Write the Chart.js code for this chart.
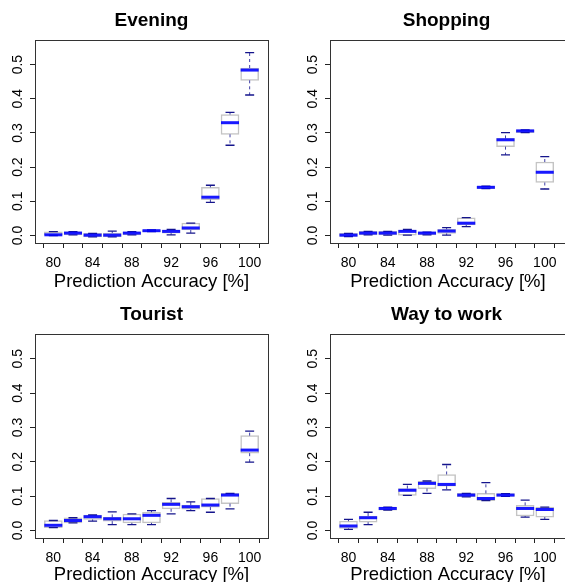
<!DOCTYPE html>
<html>
<head>
<meta charset="utf-8">
<script src="https://cdn.jsdelivr.net/npm/chart.js@4.4.1/dist/chart.umd.min.js"></script>
<style>
    body { margin: 0; background: #fff; }
    #page { position: relative; width: 565px; height: 582px; overflow: hidden; background: #fff; }
    canvas { position: absolute; }
</style>
</head>
<body>
<div id="page">
    <canvas id="evening" width="282" height="300" style="left:0px;top:0px"></canvas>
    <canvas id="shopping" width="290" height="300" style="left:282px;top:0px"></canvas>
    <canvas id="tourist" width="282" height="309" style="left:0px;top:291px"></canvas>
    <canvas id="work" width="290" height="309" style="left:282px;top:291px"></canvas>
</div>
<script>
// accuracy levels on the x axis
const positions = [80, 82, 84, 86, 88, 90, 92, 94, 96, 98, 100];
const yTicks = [0, 0.1, 0.2, 0.3, 0.4, 0.5];
const xTitle = 'Prediction Accuracy [%]';

// Evening
const eveningMin = [0.000, 0.002, -0.004, -0.004, 0.002, 0.011, 0.002, 0.007, 0.097, 0.264, 0.411];
const eveningQ1  = [0.000, 0.002, -0.004, -0.004, 0.002, 0.011, 0.007, 0.016, 0.105, 0.296, 0.454];
const eveningMed = [0.002, 0.007, 0.001, 0.001, 0.007, 0.014, 0.012, 0.022, 0.112, 0.330, 0.484];
const eveningQ3  = [0.011, 0.011, 0.006, 0.007, 0.010, 0.016, 0.016, 0.036, 0.141, 0.354, 0.490];
const eveningMax = [0.011, 0.011, 0.006, 0.013, 0.011, 0.016, 0.018, 0.036, 0.147, 0.360, 0.535];

// Shopping
const shoppingMin = [-0.003, 0.002, 0.001, 0.001, 0.002, 0.001, 0.026, 0.137, 0.236, 0.301, 0.136];
const shoppingQ1  = [-0.003, 0.002, 0.002, 0.001, 0.002, 0.006, 0.031, 0.137, 0.260, 0.301, 0.155];
const shoppingMed = [0.001, 0.007, 0.007, 0.012, 0.007, 0.013, 0.036, 0.141, 0.280, 0.306, 0.185];
const shoppingQ3  = [0.006, 0.012, 0.012, 0.016, 0.010, 0.018, 0.052, 0.144, 0.284, 0.309, 0.215];
const shoppingMax = [0.006, 0.012, 0.012, 0.018, 0.010, 0.023, 0.052, 0.144, 0.301, 0.309, 0.231];

// Tourist
const touristMin = [0.008, 0.022, 0.027, 0.017, 0.017, 0.017, 0.048, 0.058, 0.053, 0.063, 0.199];
const touristQ1  = [0.008, 0.022, 0.032, 0.027, 0.022, 0.022, 0.063, 0.062, 0.068, 0.078, 0.225];
const touristMed = [0.015, 0.029, 0.040, 0.034, 0.034, 0.044, 0.076, 0.069, 0.074, 0.103, 0.234];
const touristQ3  = [0.029, 0.037, 0.045, 0.038, 0.048, 0.053, 0.082, 0.074, 0.093, 0.108, 0.276];
const touristMax = [0.029, 0.037, 0.045, 0.054, 0.048, 0.058, 0.093, 0.083, 0.093, 0.108, 0.289];

// Way to work
const workMin = [0.003, 0.017, 0.059, 0.102, 0.108, 0.118, 0.098, 0.087, 0.099, 0.039, 0.032];
const workQ1  = [0.006, 0.024, 0.059, 0.102, 0.122, 0.129, 0.098, 0.087, 0.099, 0.042, 0.039];
const workMed = [0.013, 0.037, 0.064, 0.117, 0.137, 0.134, 0.103, 0.093, 0.103, 0.064, 0.061];
const workQ3  = [0.027, 0.042, 0.068, 0.122, 0.144, 0.163, 0.108, 0.108, 0.107, 0.073, 0.068];
const workMax = [0.032, 0.053, 0.068, 0.134, 0.144, 0.192, 0.108, 0.139, 0.107, 0.088, 0.068];

const font = '"Liberation Sans", Arial, Helvetica, sans-serif';

// whiskers, caps, medians, frame, title and rotated y labels
const boxExtras = {
    id: 'boxExtras',
    afterDatasetsDraw(chart, args, opts) {
        let ctx = chart.ctx;
        let x = chart.scales.x;
        let y = chart.scales.y;
        let a = chart.chartArea;
        let bars = chart.getDatasetMeta(0).data;

        ctx.save();
        ctx.beginPath();
        ctx.rect(a.left, a.top, a.right - a.left, a.bottom - a.top);
        ctx.clip();

        positions.forEach(function (p, i) {
            let px = x.getPixelForValue(p);
            let half = bars[i].width / 2;
            let yMin = y.getPixelForValue(opts.min[i]);
            let yQ1 = y.getPixelForValue(opts.q1[i]);
            let yMed = y.getPixelForValue(opts.med[i]);
            let yQ3 = y.getPixelForValue(opts.q3[i]);
            let yMax = y.getPixelForValue(opts.max[i]);

            // dashed whiskers
            ctx.strokeStyle = 'rgba(30, 30, 150, 0.85)';
            ctx.lineWidth = 1;
            ctx.setLineDash([3, 3]);
            ctx.beginPath();
            ctx.moveTo(px, yQ3);
            ctx.lineTo(px, yMax);
            ctx.moveTo(px, yQ1);
            ctx.lineTo(px, yMin);
            ctx.stroke();
            ctx.setLineDash([]);

            // caps
            ctx.strokeStyle = '#14148c';
            ctx.lineWidth = 1.3;
            ctx.beginPath();
            ctx.moveTo(px - half / 2, yMax);
            ctx.lineTo(px + half / 2, yMax);
            ctx.moveTo(px - half / 2, yMin);
            ctx.lineTo(px + half / 2, yMin);
            ctx.stroke();

            // median
            ctx.strokeStyle = 'rgba(0, 0, 255, 0.9)';
            ctx.lineWidth = 3;
            ctx.beginPath();
            ctx.moveTo(px - half, yMed);
            ctx.lineTo(px + half, yMed);
            ctx.stroke();
        });
        ctx.restore();
    },
    afterDraw(chart, args, opts) {
        let ctx = chart.ctx;
        let a = chart.chartArea;
        let y = chart.scales.y;

        ctx.save();
        ctx.strokeStyle = '#333';
        ctx.lineWidth = 1;
        ctx.strokeRect(Math.round(a.left) + 0.5, Math.round(a.top) + 0.5,
            Math.round(a.right - a.left), Math.round(a.bottom - a.top));

        // panel title, centred over a 233px wide plot region
        ctx.fillStyle = '#000';
        ctx.font = 'bold 19px ' + font;
        ctx.textAlign = 'center';
        ctx.textBaseline = 'middle';
        ctx.fillText(opts.title, a.left + 116.5, a.top - 19);

        ctx.font = '14px ' + font;
        yTicks.forEach(function (t) {
            let py = y.getPixelForValue(t);
            ctx.save();
            ctx.translate(a.left - 17, py);
            ctx.rotate(-Math.PI / 2);
            ctx.fillText(t.toFixed(1), 0, 0);
            ctx.restore();
        });
        ctx.restore();
    }
};

function createChart(id, title, min, q1, med, q3, max, xMax, padTop, padRight, padBottom, yWidth, xHeight) {
    let ctx = document.getElementById(id).getContext('2d');
    return new Chart(ctx, {
        type: 'bar',
        data: {
            datasets: [
                {
                    data: positions.map(function (p, i) {
                        return { x: p, y: [q1[i], q3[i]] };
                    }),
                    backgroundColor: '#fff',
                    borderColor: '#c4c4c4',
                    borderWidth: 1.5,
                    borderSkipped: false,
                    barThickness: 18,
                },
            ],
        },
        options: {
            responsive: false,
            animation: false,
            devicePixelRatio: 1,
            layout: { padding: { left: 0, top: padTop, right: padRight, bottom: padBottom } },
            plugins: {
                legend: { display: false },
                tooltip: { enabled: false },
                boxExtras: { title: title, min: min, q1: q1, med: med, q3: q3, max: max },
            },
            scales: {
                x: {
                    type: 'linear',
                    min: 79.21,
                    max: xMax,
                    afterBuildTicks: function (s) {
                        s.ticks = positions.map(function (v) { return { value: v }; });
                    },
                    ticks: {
                        autoSkip: false,
                        maxRotation: 0,
                        padding: 7,
                        color: '#000',
                        font: { family: font, size: 14 },
                        callback: function (v) { return v % 4 === 0 ? String(v) : ''; },
                    },
                    grid: { drawOnChartArea: false, tickLength: 5, color: '#222' },
                    border: { display: false },
                    title: {
                        display: true,
                        text: xTitle,
                        color: '#000',
                        padding: 0,
                        font: { family: font, size: 18.5 },
                    },
                    afterFit: function (s) { s.height = xHeight; },
                },
                y: {
                    min: -0.022,
                    max: 0.572,
                    afterBuildTicks: function (s) {
                        s.ticks = yTicks.map(function (v) { return { value: v }; });
                    },
                    ticks: { display: false },
                    grid: { drawOnChartArea: false, tickLength: 5, color: '#222' },
                    border: { display: false },
                    afterFit: function (s) { s.width = yWidth; },
                },
            },
        },
        plugins: [boxExtras],
    });
}

createChart('evening', 'Evening', eveningMin, eveningQ1, eveningMed, eveningQ3, eveningMax, 100.79, 40, 14, 7, 35, 50);
createChart('shopping', 'Shopping', shoppingMin, shoppingQ1, shoppingMed, shoppingQ3, shoppingMax, 101.07, 40, 6, 7, 48, 50);
createChart('tourist', 'Tourist', touristMin, touristQ1, touristMed, touristQ3, touristMax, 100.79, 43, 14, 14, 35, 48);
createChart('work', 'Way to work', workMin, workQ1, workMed, workQ3, workMax, 101.07, 43, 6, 14, 48, 48);
</script>
</body>
</html>
